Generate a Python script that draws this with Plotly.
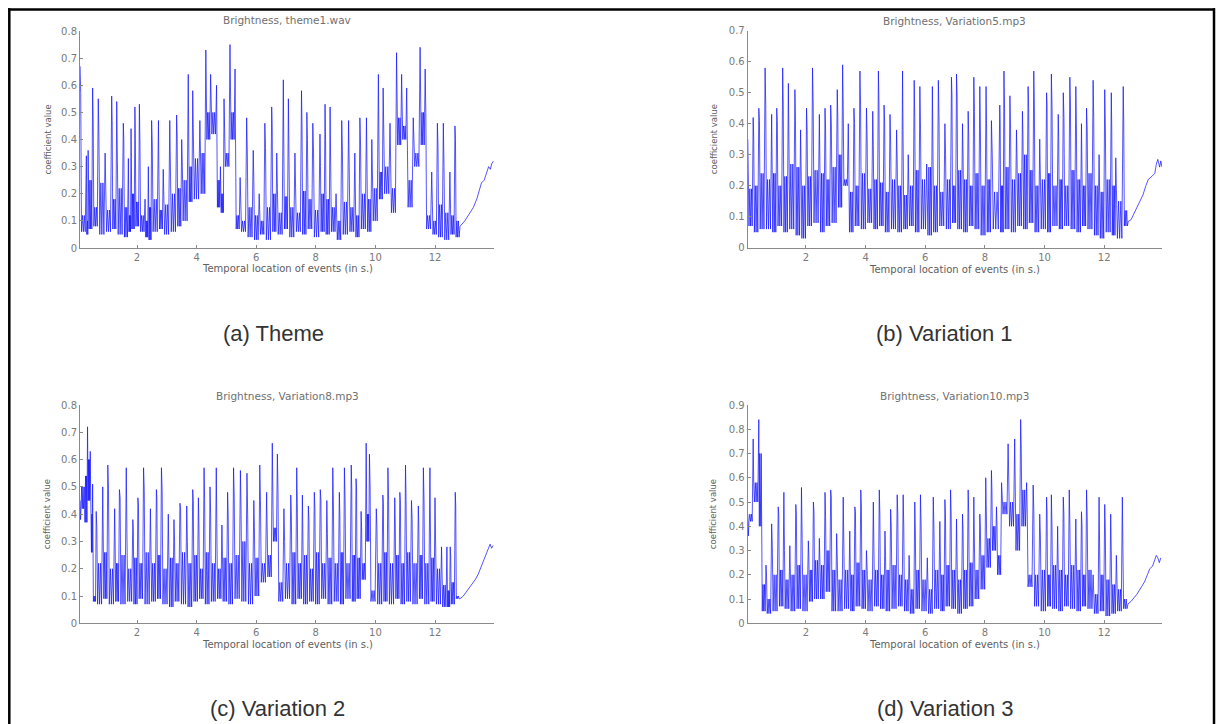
import plotly.graph_objects as go

# ---------------- data ----------------
# each event: (time s, peak, level after peak, trough, minor spike)
theme_events = [
    (0.09, 0.67, 0.57, 0.06, 0.12), (0.30, 0.34, 0.25, 0.05, 0.10), (0.36, 0.36, 0.20, 0.07, 0.25),
    (0.51, 0.59, 0.48, 0.08, 0.15), (0.70, 0.55, 0.40, 0.05, 0.24), (0.93, 0.35, 0.25, 0.06, 0.14),
    (1.15, 0.56, 0.47, 0.07, 0.18), (1.32, 0.54, 0.32, 0.05, 0.22), (1.54, 0.46, 0.40, 0.04, 0.15),
    (1.71, 0.33, 0.22, 0.06, 0.12), (1.80, 0.44, 0.30, 0.07, 0.20), (1.93, 0.52, 0.40, 0.08, 0.17),
    (2.08, 0.53, 0.38, 0.06, 0.12), (2.27, 0.18, 0.12, 0.04, 0.10), (2.38, 0.30, 0.20, 0.03, 0.15),
    (2.49, 0.47, 0.38, 0.06, 0.18), (2.72, 0.47, 0.26, 0.07, 0.14), (2.88, 0.29, 0.20, 0.05, 0.16),
    (3.10, 0.47, 0.30, 0.06, 0.20), (3.33, 0.49, 0.42, 0.08, 0.22), (3.50, 0.40, 0.30, 0.10, 0.25),
    (3.72, 0.64, 0.50, 0.17, 0.30), (3.87, 0.58, 0.45, 0.18, 0.33), (4.11, 0.47, 0.30, 0.20, 0.35),
    (4.31, 0.73, 0.58, 0.40, 0.50), (4.47, 0.64, 0.57, 0.42, 0.50), (4.67, 0.60, 0.45, 0.15, 0.25),
    (4.80, 0.30, 0.25, 0.13, 0.20), (4.92, 0.55, 0.42, 0.30, 0.35), (5.12, 0.75, 0.65, 0.40, 0.50),
    (5.29, 0.66, 0.50, 0.07, 0.12), (5.46, 0.26, 0.18, 0.06, 0.10), (5.68, 0.48, 0.35, 0.04, 0.15),
    (5.90, 0.36, 0.25, 0.03, 0.12), (6.10, 0.20, 0.14, 0.05, 0.10), (6.29, 0.46, 0.37, 0.03, 0.15),
    (6.52, 0.52, 0.45, 0.06, 0.20), (6.69, 0.35, 0.22, 0.05, 0.13), (6.91, 0.62, 0.42, 0.07, 0.19),
    (7.08, 0.55, 0.36, 0.04, 0.15), (7.30, 0.35, 0.24, 0.06, 0.13), (7.52, 0.58, 0.45, 0.05, 0.21),
    (7.70, 0.50, 0.40, 0.07, 0.18), (7.90, 0.46, 0.35, 0.04, 0.14), (8.14, 0.42, 0.30, 0.06, 0.20),
    (8.31, 0.53, 0.40, 0.05, 0.18), (8.48, 0.52, 0.30, 0.06, 0.15), (8.68, 0.20, 0.12, 0.03, 0.10),
    (8.87, 0.47, 0.36, 0.05, 0.17), (9.10, 0.47, 0.30, 0.06, 0.15), (9.31, 0.35, 0.25, 0.04, 0.12),
    (9.48, 0.48, 0.38, 0.07, 0.20), (9.70, 0.48, 0.30, 0.06, 0.18), (9.88, 0.40, 0.30, 0.10, 0.22),
    (10.10, 0.64, 0.50, 0.18, 0.28), (10.26, 0.59, 0.42, 0.20, 0.30), (10.49, 0.46, 0.35, 0.13, 0.22),
    (10.71, 0.72, 0.55, 0.38, 0.48), (10.88, 0.64, 0.50, 0.40, 0.45), (11.05, 0.59, 0.45, 0.15, 0.25),
    (11.27, 0.48, 0.32, 0.30, 0.35), (11.50, 0.74, 0.62, 0.38, 0.50), (11.67, 0.66, 0.50, 0.07, 0.12),
    (11.89, 0.28, 0.18, 0.05, 0.10), (12.08, 0.46, 0.38, 0.04, 0.16), (12.28, 0.46, 0.30, 0.03, 0.13),
    (12.50, 0.28, 0.20, 0.05, 0.12), (12.67, 0.45, 0.40, 0.04, 0.10),
]
theme_tail_t = [12.84, 13.00, 13.15, 13.29, 13.40, 13.50, 13.56, 13.65, 13.73, 13.80, 13.86, 13.90, 13.96]
theme_tail_v = [0.08, 0.10, 0.125, 0.15, 0.18, 0.22, 0.24, 0.25, 0.28, 0.30, 0.29, 0.31, 0.32]

var1_events = [
    (0.05, 0.35, 0.23, 0.07, 0.19), (0.23, 0.42, 0.35, 0.05, 0.20), (0.42, 0.45, 0.41, 0.06, 0.24),
    (0.63, 0.58, 0.46, 0.06, 0.22), (0.85, 0.43, 0.30, 0.05, 0.24), (1.02, 0.45, 0.41, 0.07, 0.20),
    (1.22, 0.58, 0.46, 0.05, 0.23), (1.41, 0.53, 0.35, 0.06, 0.27), (1.63, 0.51, 0.41, 0.04, 0.26),
    (1.82, 0.38, 0.25, 0.03, 0.20), (2.02, 0.45, 0.38, 0.07, 0.23), (2.22, 0.58, 0.46, 0.08, 0.25),
    (2.45, 0.43, 0.30, 0.05, 0.24), (2.64, 0.45, 0.38, 0.07, 0.22), (2.83, 0.46, 0.40, 0.08, 0.26),
    (3.05, 0.51, 0.42, 0.13, 0.30), (3.23, 0.59, 0.46, 0.20, 0.22), (3.42, 0.40, 0.30, 0.05, 0.18),
    (3.61, 0.45, 0.40, 0.07, 0.20), (3.81, 0.57, 0.46, 0.06, 0.24), (4.03, 0.45, 0.36, 0.08, 0.19),
    (4.24, 0.44, 0.33, 0.06, 0.22), (4.43, 0.57, 0.46, 0.07, 0.21), (4.62, 0.46, 0.40, 0.05, 0.18),
    (4.82, 0.43, 0.33, 0.06, 0.22), (5.04, 0.38, 0.28, 0.05, 0.20), (5.24, 0.57, 0.40, 0.06, 0.17),
    (5.43, 0.30, 0.22, 0.07, 0.20), (5.63, 0.54, 0.42, 0.05, 0.25), (5.82, 0.52, 0.38, 0.06, 0.22),
    (6.05, 0.27, 0.20, 0.04, 0.26), (6.24, 0.52, 0.38, 0.05, 0.20), (6.44, 0.54, 0.42, 0.07, 0.18),
    (6.66, 0.40, 0.30, 0.06, 0.22), (6.88, 0.55, 0.49, 0.08, 0.20), (7.05, 0.56, 0.49, 0.06, 0.25),
    (7.25, 0.40, 0.30, 0.05, 0.22), (7.44, 0.44, 0.36, 0.07, 0.20), (7.63, 0.55, 0.44, 0.06, 0.24),
    (7.83, 0.52, 0.38, 0.04, 0.20), (8.04, 0.52, 0.38, 0.05, 0.22), (8.22, 0.41, 0.30, 0.06, 0.18),
    (8.50, 0.46, 0.40, 0.05, 0.20), (8.64, 0.57, 0.45, 0.06, 0.26), (8.84, 0.49, 0.38, 0.05, 0.22),
    (9.06, 0.38, 0.28, 0.07, 0.24), (9.26, 0.44, 0.35, 0.06, 0.30), (9.45, 0.52, 0.45, 0.08, 0.25),
    (9.64, 0.57, 0.46, 0.05, 0.20), (9.84, 0.35, 0.26, 0.06, 0.22), (10.07, 0.50, 0.46, 0.05, 0.24),
    (10.23, 0.56, 0.45, 0.07, 0.20), (10.46, 0.43, 0.35, 0.06, 0.22), (10.63, 0.50, 0.42, 0.07, 0.20),
    (10.85, 0.55, 0.46, 0.06, 0.25), (11.05, 0.52, 0.40, 0.05, 0.22), (11.24, 0.40, 0.30, 0.07, 0.20),
    (11.41, 0.45, 0.38, 0.06, 0.24), (11.63, 0.54, 0.42, 0.04, 0.20), (11.83, 0.30, 0.22, 0.03, 0.18),
    (12.02, 0.51, 0.38, 0.05, 0.22), (12.24, 0.50, 0.38, 0.04, 0.20), (12.39, 0.29, 0.20, 0.03, 0.15),
    (12.64, 0.52, 0.40, 0.07, 0.12),
]
var1_tail_t = [12.81, 12.90, 13.00, 13.10, 13.20, 13.30, 13.40, 13.48, 13.60, 13.70, 13.75, 13.80, 13.86, 13.90, 13.94]
var1_tail_v = [0.085, 0.09, 0.11, 0.125, 0.145, 0.17, 0.20, 0.22, 0.23, 0.24, 0.27, 0.285, 0.26, 0.28, 0.26]

var2_events = [
    (0.09, 0.45, 0.38, 0.42, 0.50), (0.23, 0.50, 0.44, 0.37, 0.54), (0.34, 0.72, 0.55, 0.45, 0.60),
    (0.43, 0.63, 0.50, 0.26, 0.40), (0.51, 0.51, 0.30, 0.08, 0.10), (0.63, 0.41, 0.35, 0.07, 0.22),
    (0.85, 0.50, 0.32, 0.09, 0.26), (1.02, 0.58, 0.49, 0.07, 0.20), (1.25, 0.42, 0.30, 0.08, 0.22),
    (1.41, 0.49, 0.46, 0.07, 0.25), (1.64, 0.57, 0.33, 0.08, 0.20), (1.86, 0.38, 0.34, 0.07, 0.24),
    (2.03, 0.46, 0.43, 0.09, 0.22), (2.22, 0.57, 0.49, 0.07, 0.26), (2.45, 0.42, 0.30, 0.08, 0.22),
    (2.65, 0.49, 0.46, 0.09, 0.25), (2.82, 0.57, 0.49, 0.07, 0.20), (3.05, 0.40, 0.30, 0.06, 0.24),
    (3.24, 0.38, 0.30, 0.08, 0.22), (3.44, 0.44, 0.42, 0.07, 0.26), (3.67, 0.43, 0.30, 0.06, 0.22),
    (3.87, 0.49, 0.45, 0.08, 0.25), (4.06, 0.46, 0.35, 0.09, 0.20), (4.25, 0.57, 0.45, 0.07, 0.26),
    (4.45, 0.50, 0.40, 0.08, 0.22), (4.66, 0.57, 0.42, 0.09, 0.20), (4.85, 0.36, 0.27, 0.08, 0.24),
    (5.04, 0.48, 0.40, 0.07, 0.22), (5.24, 0.57, 0.46, 0.09, 0.25), (5.47, 0.56, 0.42, 0.08, 0.30),
    (5.69, 0.55, 0.40, 0.07, 0.22), (5.92, 0.45, 0.35, 0.10, 0.24), (6.12, 0.58, 0.45, 0.15, 0.22),
    (6.35, 0.48, 0.38, 0.17, 0.25), (6.54, 0.66, 0.50, 0.30, 0.35), (6.71, 0.62, 0.48, 0.08, 0.15),
    (6.93, 0.42, 0.30, 0.09, 0.22), (7.16, 0.47, 0.40, 0.07, 0.26), (7.36, 0.57, 0.44, 0.09, 0.22),
    (7.55, 0.47, 0.35, 0.07, 0.25), (7.75, 0.43, 0.38, 0.08, 0.20), (7.95, 0.48, 0.42, 0.07, 0.26),
    (8.15, 0.49, 0.45, 0.09, 0.22), (8.37, 0.45, 0.33, 0.07, 0.24), (8.57, 0.57, 0.43, 0.08, 0.22),
    (8.79, 0.48, 0.40, 0.07, 0.26), (8.96, 0.57, 0.45, 0.09, 0.22), (9.19, 0.58, 0.49, 0.08, 0.25),
    (9.35, 0.53, 0.50, 0.09, 0.24), (9.52, 0.41, 0.35, 0.16, 0.22), (9.69, 0.66, 0.52, 0.30, 0.40),
    (9.80, 0.62, 0.50, 0.08, 0.12), (10.03, 0.42, 0.35, 0.07, 0.22), (10.25, 0.47, 0.44, 0.08, 0.26),
    (10.42, 0.57, 0.45, 0.07, 0.22), (10.65, 0.46, 0.36, 0.09, 0.25), (10.82, 0.48, 0.45, 0.07, 0.22),
    (11.01, 0.58, 0.45, 0.08, 0.26), (11.21, 0.45, 0.38, 0.07, 0.22), (11.44, 0.43, 0.36, 0.09, 0.25),
    (11.61, 0.57, 0.45, 0.07, 0.22), (11.83, 0.57, 0.43, 0.08, 0.24), (12.00, 0.46, 0.30, 0.07, 0.20),
    (12.22, 0.28, 0.20, 0.06, 0.14), (12.40, 0.28, 0.18, 0.06, 0.12), (12.51, 0.28, 0.25, 0.07, 0.15),
    (12.68, 0.48, 0.43, 0.09, 0.10),
]
var2_tail_t = [12.84, 12.95, 13.05, 13.15, 13.25, 13.35, 13.45, 13.57, 13.65, 13.74, 13.80, 13.85, 13.90, 13.95]
var2_tail_v = [0.09, 0.10, 0.115, 0.13, 0.145, 0.16, 0.18, 0.21, 0.235, 0.26, 0.28, 0.29, 0.275, 0.285]

var3_events = [
    (0.05, 0.45, 0.36, 0.42, 0.45), (0.23, 0.76, 0.58, 0.50, 0.58), (0.42, 0.84, 0.70, 0.40, 0.70),
    (0.50, 0.70, 0.40, 0.05, 0.16), (0.66, 0.24, 0.19, 0.04, 0.10), (0.85, 0.41, 0.32, 0.05, 0.20),
    (1.07, 0.48, 0.45, 0.07, 0.22), (1.26, 0.54, 0.30, 0.06, 0.18), (1.46, 0.32, 0.22, 0.05, 0.20),
    (1.66, 0.49, 0.45, 0.06, 0.24), (1.85, 0.56, 0.35, 0.05, 0.20), (2.08, 0.34, 0.28, 0.09, 0.22),
    (2.25, 0.50, 0.46, 0.10, 0.26), (2.45, 0.35, 0.25, 0.10, 0.24), (2.64, 0.54, 0.44, 0.13, 0.30),
    (2.83, 0.55, 0.52, 0.05, 0.22), (3.03, 0.37, 0.26, 0.05, 0.18), (3.25, 0.52, 0.37, 0.06, 0.22),
    (3.47, 0.38, 0.28, 0.05, 0.20), (3.64, 0.48, 0.46, 0.07, 0.25), (3.84, 0.55, 0.48, 0.06, 0.22),
    (4.03, 0.30, 0.22, 0.05, 0.18), (4.26, 0.50, 0.36, 0.07, 0.22), (4.46, 0.55, 0.45, 0.06, 0.20),
    (4.65, 0.38, 0.28, 0.05, 0.22), (4.84, 0.47, 0.40, 0.06, 0.24), (5.06, 0.53, 0.45, 0.07, 0.20),
    (5.26, 0.53, 0.40, 0.05, 0.18), (5.46, 0.28, 0.18, 0.04, 0.14), (5.65, 0.50, 0.38, 0.06, 0.22),
    (5.84, 0.53, 0.40, 0.05, 0.18), (6.07, 0.27, 0.16, 0.04, 0.14), (6.27, 0.52, 0.39, 0.06, 0.22),
    (6.49, 0.42, 0.30, 0.05, 0.20), (6.66, 0.51, 0.45, 0.07, 0.24), (6.85, 0.55, 0.45, 0.06, 0.22),
    (7.05, 0.43, 0.30, 0.04, 0.18), (7.25, 0.45, 0.38, 0.06, 0.22), (7.44, 0.55, 0.45, 0.07, 0.25),
    (7.63, 0.52, 0.35, 0.10, 0.22), (7.83, 0.45, 0.40, 0.14, 0.28), (8.03, 0.60, 0.46, 0.23, 0.35),
    (8.22, 0.63, 0.55, 0.30, 0.40), (8.39, 0.48, 0.40, 0.20, 0.28), (8.56, 0.58, 0.52, 0.45, 0.50),
    (8.78, 0.74, 0.55, 0.40, 0.50), (9.00, 0.76, 0.58, 0.30, 0.45), (9.20, 0.84, 0.72, 0.40, 0.55),
    (9.40, 0.58, 0.45, 0.15, 0.20), (9.62, 0.57, 0.46, 0.07, 0.20), (9.84, 0.45, 0.36, 0.05, 0.22),
    (10.07, 0.52, 0.46, 0.07, 0.20), (10.23, 0.53, 0.40, 0.06, 0.24), (10.44, 0.40, 0.30, 0.05, 0.22),
    (10.63, 0.52, 0.45, 0.07, 0.20), (10.83, 0.55, 0.40, 0.06, 0.24), (11.05, 0.43, 0.30, 0.05, 0.22),
    (11.24, 0.46, 0.40, 0.07, 0.20), (11.41, 0.55, 0.44, 0.06, 0.22), (11.63, 0.20, 0.15, 0.04, 0.12),
    (11.83, 0.52, 0.36, 0.05, 0.20), (12.02, 0.49, 0.38, 0.03, 0.18), (12.22, 0.45, 0.30, 0.04, 0.16),
    (12.41, 0.28, 0.20, 0.05, 0.14), (12.61, 0.52, 0.38, 0.06, 0.10),
]
var3_tail_t = [12.80, 12.90, 13.00, 13.10, 13.25, 13.35, 13.45, 13.53, 13.62, 13.70, 13.75, 13.80, 13.85, 13.90]
var3_tail_v = [0.08, 0.09, 0.105, 0.12, 0.15, 0.17, 0.20, 0.225, 0.235, 0.26, 0.28, 0.27, 0.25, 0.27]

titles = ["Brightness, theme1.wav", "Brightness, Variation5.mp3",
          "Brightness, Variation8.mp3", "Brightness, Variation10.mp3"]
captions = ["(a) Theme", "(b) Variation 1", "(c) Variation 2", "(d) Variation 3"]
y_max = [0.8, 0.7, 0.8, 0.9]
x_ranges = [(0.087, 13.98), (0.047, 13.94), (0.087, 13.98), (0.047, 13.94)]
x_ticks = [2, 4, 6, 8, 10, 12]
xlabel = "Temporal location of events (in s.)"
ylabel = "coefficient value"

series = [(theme_events, theme_tail_t, theme_tail_v),
          (var1_events, var1_tail_t, var1_tail_v),
          (var2_events, var2_tail_t, var2_tail_v),
          (var3_events, var3_tail_t, var3_tail_v)]

# ---------------- layout geometry (pixels of the 1217x724 page) ----------------
W, H = 1217, 724
# (left, right, top, bottom) of each axes box in page pixels
boxes = [(80, 494, 31, 248), (747.7, 1162, 30.7, 247.7),
         (80, 494, 405, 623.3), (747.7, 1162, 405, 623.3)]
title_y = [20, 21, 396, 396]
xlabel_y = [268, 269, 644, 644]
ylabel_x = [47, 714, 47, 713]
caption_pos = [(273, 333), (944, 333), (277, 708), (945, 708)]


def px(x):
    return x / W


def py(y):
    return 1 - y / H


def build(events, tail_t, tail_v):
    xs, ys = [], []
    fr = [0.0, 0.1, 0.22, 0.38, 0.52, 0.68, 0.82]
    for i, (t, p, m, l, q) in enumerate(events):
        t_next = events[i + 1][0] if i + 1 < len(events) else tail_t[0]
        d = t_next - t
        for f, v in zip(fr, (p, m, l, q, l, q, l)):
            xs.append(t + f * d)
            ys.append(v)
    xs += list(tail_t)
    ys += list(tail_v)
    return xs, ys


fig = go.Figure()
axis_col = "#8a8a8a"
tick_font = dict(family="DejaVu Sans", size=10, color="#7a7a7a")
annotations = []
layout_axes = {}
for k in range(4):
    xs, ys = build(*series[k])
    xa = "x" if k == 0 else f"x{k+1}"
    ya = "y" if k == 0 else f"y{k+1}"
    fig.add_trace(go.Scatter(x=xs, y=ys, mode="lines", xaxis=xa, yaxis=ya,
                             line=dict(color="rgba(20,20,255,0.72)", width=1), showlegend=False,
                             hoverinfo="skip"))
    l, r, t, b = boxes[k]
    xkey = "xaxis" if k == 0 else f"xaxis{k+1}"
    ykey = "yaxis" if k == 0 else f"yaxis{k+1}"
    layout_axes[xkey] = dict(domain=[px(l), px(r)], anchor=ya, range=list(x_ranges[k]),
                             tickvals=x_ticks, showgrid=False, zeroline=False, automargin=False,
                             showline=True, linecolor=axis_col, linewidth=1,
                             ticks="inside", ticklen=3, tickcolor=axis_col,
                             tickfont=tick_font)
    layout_axes[ykey] = dict(domain=[py(b), py(t)], anchor=xa, range=[0, y_max[k]],
                             dtick=0.1, tick0=0, showgrid=False, zeroline=False, automargin=False,
                             showline=True, linecolor=axis_col, linewidth=1,
                             ticks="inside", ticklen=3, tickcolor=axis_col,
                             tickfont=tick_font)
    cx = (l + r) / 2
    annotations.append(dict(text=titles[k], x=px(cx), y=py(title_y[k]), xref="paper", yref="paper",
                            showarrow=False, xanchor="center", yanchor="middle",
                            font=dict(family="DejaVu Sans", size=10.5, color="#707070")))
    annotations.append(dict(text=xlabel, x=px(cx), y=py(xlabel_y[k]), xref="paper", yref="paper",
                            showarrow=False, xanchor="center", yanchor="middle",
                            font=dict(family="DejaVu Sans", size=10, color="#606060")))
    annotations.append(dict(text=ylabel, x=px(ylabel_x[k]), y=py((t + b) / 2), xref="paper",
                            yref="paper", showarrow=False, xanchor="center", yanchor="middle",
                            textangle=-90,
                            font=dict(family="DejaVu Sans", size=8.5, color="#606060")))
    cxp, cyp = caption_pos[k]
    annotations.append(dict(text=captions[k], x=px(cxp), y=py(cyp), xref="paper", yref="paper",
                            showarrow=False, xanchor="center", yanchor="middle",
                            font=dict(family="Liberation Sans, Arial, sans-serif",
                                      size=22, color="#333333")))

shapes = [
    dict(type="line", xref="paper", yref="paper", x0=px(9.3), x1=px(9.3), y0=py(8.3), y1=py(730),
         line=dict(color="black", width=2.5)),
    dict(type="line", xref="paper", yref="paper", x0=px(8), x1=px(1215), y0=py(9.5), y1=py(9.5),
         line=dict(color="black", width=2.5)),
    dict(type="line", xref="paper", yref="paper", x0=px(1214), x1=px(1214), y0=py(8.3), y1=py(730),
         line=dict(color="black", width=2.5)),
]

fig.update_layout(width=W, height=H, margin=dict(l=0, r=0, t=0, b=0, autoexpand=False),
                  paper_bgcolor="white", plot_bgcolor="white",
                  annotations=annotations, shapes=shapes, **layout_axes)

# pin the figure to the top-left corner of the page so that it fills the window exactly
pin_page = (
    "document.documentElement.style.margin='0px';"
    "document.body.style.margin='0px';"
    "document.body.style.overflow='hidden';"
    "document.documentElement.style.overflow='hidden';"
    "var gd=document.getElementById('{plot_id}');"
    "gd.style.position='absolute';gd.style.left='0px';gd.style.top='0px';"
)

fig.write_html("out.html", config={"displayModeBar": False}, post_script=pin_page)
